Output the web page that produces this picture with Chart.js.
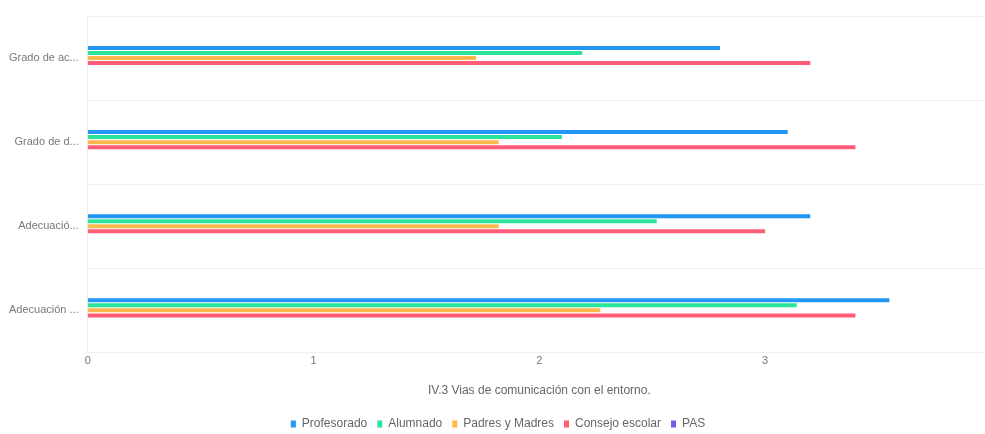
<!DOCTYPE html>
<html>
<head>
<meta charset="utf-8">
<script src="https://cdn.jsdelivr.net/npm/chart.js@4/dist/chart.umd.min.js"></script>
<style>
  html, body { margin: 0; padding: 0; background: #fff; overflow: hidden; }
  #wrap { position: relative; width: 996px; height: 434px; }
</style>
</head>
<body>
<div id="wrap"><canvas id="c"></canvas></div>
<script>
const categories = ["Grado de ac...", "Grado de d...", "Adecuació...", "Adecuación ..."];
const profesorado = [2.80, 3.10, 3.20, 3.55];
const alumnado = [2.19, 2.10, 2.52, 3.14];
const padres = [1.72, 1.82, 1.82, 2.27];
const consejo = [3.20, 3.40, 3.00, 3.40];
const pas = [0, 0, 0, 0];
const seriesNames = ["Profesorado", "Alumnado", "Padres y Madres", "Consejo escolar", "PAS"];
const xTicks = [0, 1, 2, 3, 4];
const axisTitle = "IV.3 Vias de comunicación con el entorno.";

const colors = ["#2196f3", "#2be39a", "#ffb84d", "#ff5c78", "#7b5ce6"];
const values = [profesorado, alumnado, padres, consejo, pas];

new Chart(document.getElementById('c'), {
  type: 'bar',
  data: {
    labels: categories,
    datasets: seriesNames.map((n, i) => ({
      label: n,
      data: values[i],
      backgroundColor: colors[i],
      borderWidth: 0,
      categoryPercentage: 0.3,
      barPercentage: 0.8
    }))
  },
  options: {
    indexAxis: 'y',
    responsive: true,
    maintainAspectRatio: false,
    animation: false,
    layout: { padding: { top: 16, left: 0, bottom: -6 } },
    plugins: {
      tooltip: { enabled: false },
      legend: {
        position: 'bottom',
        labels: {
          boxWidth: 5,
          boxHeight: 7,
          padding: 10,
          color: '#666',
          font: { family: 'Liberation Sans', size: 12 }
        }
      }
    },
    scales: {
      x: {
        min: 0,
        max: 4,
        ticks: {
          stepSize: 1,
          padding: 2,
          color: '#777',
          font: { family: 'Liberation Sans', size: 11 },
          callback: (v) => xTicks.includes(v) ? String(v) : ''
        },
        grid: { display: false, drawTicks: false },
        border: { display: true, color: '#eeeeee' },
        title: {
          display: true,
          text: axisTitle,
          color: '#666',
          font: { family: 'Liberation Sans', size: 12 },
          padding: { top: 14, bottom: 10 }
        }
      },
      y: {
        ticks: {
          color: '#777',
          font: { family: 'Liberation Sans', size: 11 },
          padding: 9
        },
        grid: { color: '#eeeeee', drawTicks: false },
        border: { display: true, color: '#eeeeee' }
      }
    }
  }
});
</script>
</body>
</html>
